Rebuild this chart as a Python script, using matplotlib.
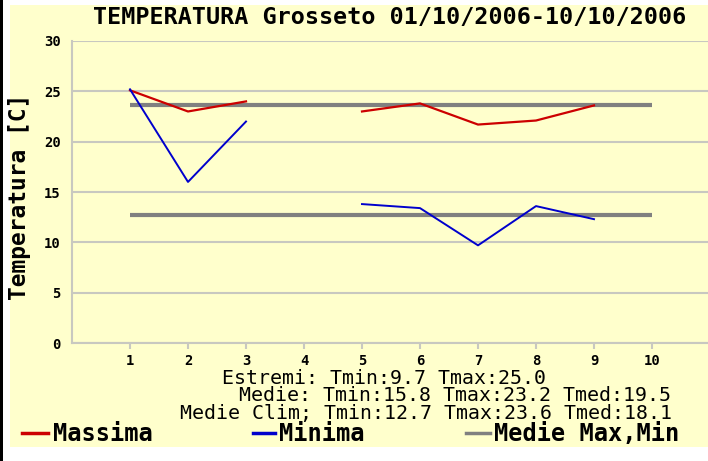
import numpy as np
import matplotlib
matplotlib.use("Agg")
import matplotlib.pyplot as plt
from matplotlib.patches import Rectangle
from matplotlib.lines import Line2D

# ---- data ----
days = [1, 2, 3, 4, 5, 6, 7, 8, 9, 10]
tmax = [25.1, 23.0, 24.0, np.nan, 23.0, 23.8, 21.7, 22.1, 23.6, np.nan]
tmin = [25.2, 16.0, 22.0, np.nan, 13.8, 13.4, 9.7, 13.6, 12.3, np.nan]
clim_max = 23.6
clim_min = 12.7
title = "TEMPERATURA Grosseto 01/10/2006-10/10/2006"
ylabel = "Temperatura [C]"
stats_lines = ["Estremi: Tmin:9.7 Tmax:25.0",
               "Medie: Tmin:15.8 Tmax:23.2 Tmed:19.5",
               "Medie Clim; Tmin:12.7 Tmax:23.6 Tmed:18.1"]
legend_labels = ["Massima", "Minima", "Medie Max,Min"]

W, H = 708, 461
fig = plt.figure(figsize=(W / 100, H / 100), dpi=100)
fig.patch.set_facecolor("white")

def fx(px):
    return px / W

def fy(py):
    return 1 - py / H

BG = "#ffffcc"
# yellow background panel and left black bar
fig.patches.append(Rectangle((fx(10), fy(447)), fx(708) - fx(10), fy(5) - fy(447),
                             transform=fig.transFigure, facecolor=BG, edgecolor="none", zorder=-5))
fig.patches.append(Rectangle((0, 0), fx(3), 1, transform=fig.transFigure,
                             facecolor="black", edgecolor="none", zorder=-5))

ax_l, ax_r, ax_t, ax_b = 72, 708, 41, 343
ax = fig.add_axes([fx(ax_l), fy(ax_b), fx(ax_r) - fx(ax_l), fy(ax_t) - fy(ax_b)])
ax.set_zorder(1)
ax.patch.set_alpha(0)
px_per_day = 58.0
ax.set_xlim(1 - (130 - ax_l) / px_per_day, 1 + (ax_r - 130) / px_per_day)
ax.set_ylim(0, 30)

GRID = "#c8c8c0"
for s in ["top", "right"]:
    ax.spines[s].set_visible(False)
for s in ["left", "bottom"]:
    ax.spines[s].set_color(GRID)
    ax.spines[s].set_linewidth(1.5)

ax.set_yticks([0, 5, 10, 15, 20, 25, 30])
ax.set_xticks(days)
ax.yaxis.grid(True, color=GRID, linewidth=1.5)
ax.set_axisbelow(True)
ax.tick_params(axis="y", length=0, pad=8)
ax.tick_params(axis="x", length=4, width=1.5, color=GRID, pad=4)
for lab in ax.get_yticklabels() + ax.get_xticklabels():
    lab.set_fontfamily("DejaVu Sans Mono")
    lab.set_fontweight("bold")
    lab.set_fontsize(10)

ax.plot(days, [clim_max] * len(days), color="#808080", linewidth=3, zorder=2, solid_capstyle="butt")
ax.plot(days, [clim_min] * len(days), color="#808080", linewidth=3, zorder=2, solid_capstyle="butt")
ax.plot(days, tmax, color="#cc0000", linewidth=1.6, zorder=3)
ax.plot(days, tmin, color="#0000cc", linewidth=1.4, zorder=3)

# title
fig.text(fx(390), fy(18), title, ha="center", va="center",
         fontfamily="DejaVu Sans Mono", fontweight="bold", fontsize=16.8)
# y label
fig.text(fx(20), fy(197), ylabel, ha="center", va="center", rotation=90,
         fontfamily="DejaVu Sans Mono", fontweight="bold", fontsize=16.5)

# statistics lines
stats_pos = [(222, 378), (239, 395), (180, 413)]
for (x, y), s in zip(stats_pos, stats_lines):
    fig.text(fx(x), fy(y), s, ha="left", va="center",
             fontfamily="DejaVu Sans Mono", fontsize=14.3)

# legend
leg = [("#cc0000", 22, 48, 53), ("#0000cc", 253, 275, 279), ("#808080", 466, 490, 494)]
for (col, x0, x1, xt), lab in zip(leg, legend_labels):
    fig.lines.append(Line2D([fx(x0), fx(x1)], [fy(433), fy(433)], transform=fig.transFigure,
                            color=col, linewidth=2.5))
    fig.text(fx(xt), fy(434), lab, ha="left", va="center",
             fontfamily="DejaVu Sans Mono", fontweight="bold", fontsize=17)

fig.savefig("out.png", dpi=100, facecolor="white")
